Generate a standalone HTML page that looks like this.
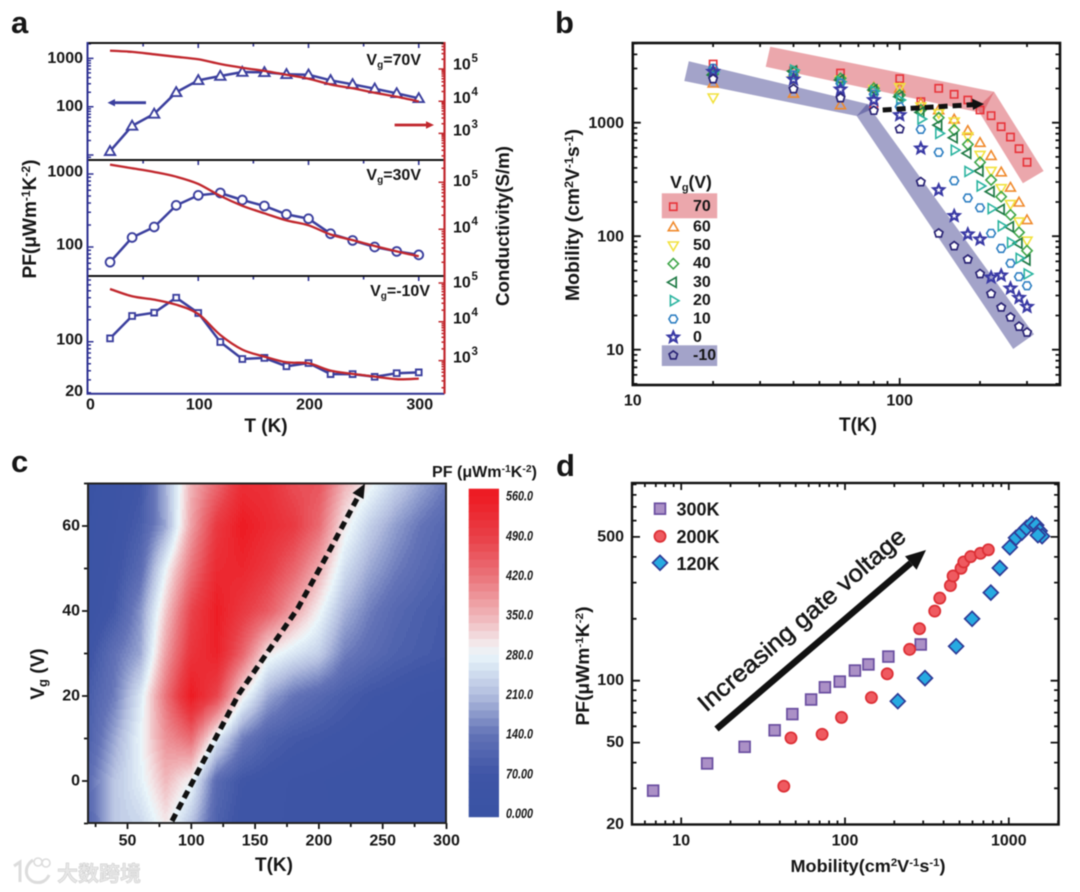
<!DOCTYPE html>
<html>
<head>
<meta charset="utf-8">
<title>Thermoelectric power factor and mobility figure</title>
<style>
html,body{margin:0;padding:0;background:#fff}
svg{display:block;filter:blur(0.6px)}
text{font-family:"Liberation Sans","Noto Sans CJK SC",sans-serif;font-weight:bold;fill:#161616}
.tick{font-size:16px}
.let{font-size:31px}
</style>
</head>
<body>
<svg id="fig" width="1080" height="892" viewBox="0 0 1080 892" xmlns="http://www.w3.org/2000/svg">
<rect x="0" y="0" width="1080" height="892" fill="#fff"/>

<text class="let" x="11" y="33">a</text>
<text class="let" x="555" y="33">b</text>
<text class="let" x="11" y="472">c</text>
<text class="let" x="556" y="476">d</text>

<g id="panelA">
  <text transform="translate(36,219) rotate(-90)" text-anchor="middle" font-size="19" textLength="119" lengthAdjust="spacingAndGlyphs">PF(μWm<tspan dy="-6" font-size="12">-1</tspan><tspan dy="6">K</tspan><tspan dy="-6" font-size="12">-2</tspan><tspan dy="6">)</tspan></text>
  <text transform="translate(509,226) rotate(-90)" text-anchor="middle" font-size="18.7" textLength="160" lengthAdjust="spacingAndGlyphs">Conductivity(S/m)</text>
  <text x="266" y="432" text-anchor="middle" font-size="19">T (K)</text>
  <text x="421" y="65" text-anchor="end" font-size="16">V<tspan dy="3" font-size="10">g</tspan><tspan dy="-3">=70V</tspan></text>
  <text x="421" y="180" text-anchor="end" font-size="16">V<tspan dy="3" font-size="10">g</tspan><tspan dy="-3">=30V</tspan></text>
  <text x="430" y="296" text-anchor="end" font-size="16">V<tspan dy="3" font-size="10">g</tspan><tspan dy="-3">=-10V</tspan></text>
  <path d="M146 102.7H113" stroke="#3b3f9e" stroke-width="2.8" fill="none"/>
  <path d="M107.5 102.7L115 99V106.4Z" fill="#3b3f9e"/>
  <path d="M394.6 125H428" stroke="#c1272d" stroke-width="2.8" fill="none"/>
  <path d="M434 125L426 121.3V128.7Z" fill="#c1272d"/>
</g>

<g id="panelB">
  <polygon points="770.2,46.7 994.1,91.7 983,113.3 765.7,66.7" fill="#d23c46" fill-opacity="0.45"/>
  <polygon points="994.1,91.7 1043.6,171 1022.9,183.3 976.8,108.3" fill="#d23c46" fill-opacity="0.45"/>
  <polygon points="688.8,61.3 878,106.5 856.7,116 684.3,81" fill="#3c3c8c" fill-opacity="0.47"/>
  <polygon points="867,104 1034,334.3 1013.2,349 856.7,116" fill="#3c3c8c" fill-opacity="0.47"/>
  <rect x="661.8" y="193.3" width="55.4" height="25" fill="#d23c46" fill-opacity="0.45"/>
  <rect x="661.8" y="345.3" width="55.4" height="20.7" fill="#3c3c8c" fill-opacity="0.47"/>
  <text transform="translate(579,215) rotate(-90)" text-anchor="middle" font-size="19" textLength="172" lengthAdjust="spacingAndGlyphs">Mobility (cm<tspan dy="-6" font-size="12">2</tspan><tspan dy="6">V</tspan><tspan dy="-6" font-size="12">-1</tspan><tspan dy="6">s</tspan><tspan dy="-6" font-size="12">-1</tspan><tspan dy="6">)</tspan></text>
  <text x="858" y="431" text-anchor="middle" font-size="19">T(K)</text>
  <text x="691" y="188" text-anchor="middle" font-size="17.5">V<tspan dy="3" font-size="11">g</tspan><tspan dy="-3">(V)</tspan></text>
  <g id="bMarks"></g>
  <path d="M882.7 110L974 104.6" stroke="#111" stroke-width="5" stroke-dasharray="9 5" fill="none"/>
  <path d="M984 104L972 98.6L973 110Z" fill="#111"/>
</g>

<g id="panelC">
  <g id="heat"></g>
  <g id="bar"></g>
  <polyline points="172,821 238.8,694 297.7,608.5 328.8,552 359,495" fill="none" stroke="#111" stroke-width="5.2" stroke-dasharray="8 5"/>
  <path d="M365 483.5L352.5 493L363.5 499Z" fill="#111"/>
  <text transform="translate(44,674) rotate(-90)" text-anchor="middle" font-size="19">V<tspan dy="3" font-size="13">g</tspan><tspan dy="-3"> (V)</tspan></text>
  <text x="274" y="871" text-anchor="middle" font-size="19">T(K)</text>
  <text x="432" y="477" font-size="15.5" textLength="105" lengthAdjust="spacingAndGlyphs">PF (μWm<tspan dy="-5" font-size="10">-1</tspan><tspan dy="5">K</tspan><tspan dy="-5" font-size="10">-2</tspan><tspan dy="5">)</tspan></text>
</g>

<g id="panelD">
  <text transform="translate(589,666) rotate(-90)" text-anchor="middle" font-size="18" textLength="119" lengthAdjust="spacingAndGlyphs">PF(μWm<tspan dy="-6" font-size="11">-1</tspan><tspan dy="6">K</tspan><tspan dy="-6" font-size="11">-2</tspan><tspan dy="6">)</tspan></text>
  <text x="868" y="872" text-anchor="middle" font-size="17.5" textLength="155" lengthAdjust="spacingAndGlyphs">Mobility(cm<tspan dy="-6" font-size="11">2</tspan><tspan dy="6">V</tspan><tspan dy="-6" font-size="11">-1</tspan><tspan dy="6">s</tspan><tspan dy="-6" font-size="11">-1</tspan><tspan dy="6">)</tspan></text>
  <path d="M716.5 729L910.8 563" stroke="#111" stroke-width="6.5" fill="none"/>
  <path d="M926 550L905 556.2L916.6 569.8Z" fill="#111"/>
  <text transform="translate(802,620) rotate(-40.8)" text-anchor="middle" dominant-baseline="central" font-size="24" style="font-weight:normal;stroke:#161616;stroke-width:.5px" textLength="266" lengthAdjust="spacingAndGlyphs">Increasing gate voltage</text>
  <g id="dMarks"></g>
</g>

<g>
  <path d="M14 866L20 862V882M33 860C24 866 24 878 34 882C42 884 47 880 49 875" fill="none" stroke="#dcdcdc" stroke-width="3"/>
  <circle cx="38" cy="862" r="4" fill="none" stroke="#dcdcdc" stroke-width="1.6"/>
  <circle cx="46" cy="863" r="4" fill="none" stroke="#dcdcdc" stroke-width="1.6"/>
  <text x="57" y="881" font-size="21" style="fill:#e8e8e8;stroke:#cfcfcf;stroke-width:.6px;font-family:'Noto Sans CJK SC',sans-serif">大数跨境</text>
</g>
</svg>

<script>
// ---------- Panel a data ----------
const tempsA = [20,40,60,80,100,120,140,160,180,200,220,240,260,280,300];
const pfVg70  = [12,40,71,199,352,432,523,515,468,460,352,291,236,189,149];
const pfVg30  = [62,135,188,372,510,550,440,365,280,244,152,123,100,87,78];
const pfVgM10 = [111,225,250,401,247,99,58,60,46,51,36,36,33,37,38];
const logSigma70  = [5.57,5.53,5.456,5.38,5.30,5.155,5.04,4.94,4.82,4.70,4.52,4.40,4.26,4.14,3.995];
const logSigma30  = [5.376,5.298,5.22,5.12,4.965,4.71,4.50,4.34,4.19,4.085,3.89,3.77,3.645,3.53,3.425];
const logSigmaM10 = [4.845,4.657,4.571,4.442,4.2,3.66,3.283,3.103,2.957,2.93,2.742,2.657,2.588,2.52,2.536];

// ---------- Panel b data ----------
const tempsB = [20,40,60,80,100,120,140,160,180,200,220,240,260,280,300];
const mu70 = [3288,2871,2740,1365,2441,1531,2007,1778,1585,1294,1153,922,748,590,448];
const mu60 = [2221,1811,1432,2046,2007,1480,1294,1070,851,667,512,367,269,199,139];
const mu50 = [1660,2377,2377,1967,2046,1384,1208,1020,753,519,375,264,191,134,91];
const mu40 = [2685,2813,2460,2007,1754,1294,1107,862,644,448,313,223,154,108,74.5];
const mu30 = [2630,2851,2377,1941,1694,1233,953,738,537,375,247,172,121,86.5,61.7];
const mu20 = [2813,2911,2296,1901,1585,1077,805,574,372,277,175,123,87.7,63.8,46.5];
const mu10 = [3010,2630,2221,1778,1384,873,548,308,217,178,106,78,57.7,44,36.6];
const mu0  = [2813,2410,1967,1585,1169,594,255,151,104,93.8,43.4,45.2,34.7,28.7,23.9];
const muM10 = [2425,1980,1650,1276,879,300,106,81.9,62.5,46.5,31.1,23.6,19.3,16,14.2];
const legendVg = ["70","60","50","40","30","20","10","0","-10"];

// ---------- Panel c data (PF by T and Vg) ----------
const heatT = [20,40,60,80,100,120,140,160,180,200,220,240,260,280,300];
const heatVg = [70,60,50,40,30,20,10,0,-10];
const heat70 = [12,40,71,199,352,432,523,515,468,460,352,291,236,189,149];
const heat60 = [20,50,90,190,370,500,565,530,500,430,300,230,180,140,110];
const heat50 = [25,60,120,280,420,530,540,500,440,360,250,190,150,120,95];
const heat40 = [30,80,170,330,480,560,500,450,370,290,200,150,115,95,80];
const heat30 = [62,135,188,372,510,550,440,300,260,230,152,123,100,87,78];
const heat20 = [90,150,260,420,565,480,300,190,140,115,90,70,60,50,45];
const heat10 = [100,190,280,385,430,270,150,100,80,70,60,50,45,40,35];
const heat0  = [130,220,270,345,285,120,70,60,50,45,40,38,35,33,30];
const heatM10 = [111,225,240,300,215,99,58,60,46,51,36,36,33,37,38];
const barTicks = ["560.0","490.0","420.0","350.0","280.0","210.0","140.0","70.00","0.000"];
const barTickValues = [560,490,420,350,280,210,140,70,0];

// ---------- Panel d data ----------
const mob300 = [6.74,14.4,24.4,37.2,47.7,62.1,75.4,92.9,115,139,184,290];
const pf300  = [29.2,39.6,47.7,57.4,68.8,81,92.9,99,112,120,131,150];
const mob200 = [42.3,46.8,72.5,95.2,145,181,248,285,353,379,440,457,511,531,585,671,750];
const pf200  = [30.7,52.7,54.9,66.3,82.8,108,142,179,218,252,290,323,352,378,401,416,433];
const mob120 = [210,308,477,597,776,881,1014,1107,1203,1282,1380,1469,1542,1596,1506];
const pf120  = [79.5,103,147,200,268,353,445,495,525,553,580,570,535,504,510];

// ---------- helpers ----------
const NS = "http://www.w3.org/2000/svg";
function mk(tag, attrs, parent, txt){
  const el = document.createElementNS(NS, tag);
  for (const k in attrs) el.setAttribute(k, attrs[k]);
  if (txt !== undefined) el.textContent = txt;
  parent.appendChild(el);
  return el;
}
function smooth(p){
  let d = "M" + p[0][0].toFixed(1) + " " + p[0][1].toFixed(1);
  for (let i = 0; i < p.length - 1; i++){
    const a = p[Math.max(i-1,0)], b = p[i], c = p[i+1], e = p[Math.min(i+2,p.length-1)];
    d += "C" + (b[0]+(c[0]-a[0])/6).toFixed(1) + " " + (b[1]+(c[1]-a[1])/6).toFixed(1) + " " +
         (c[0]-(e[0]-b[0])/6).toFixed(1) + " " + (c[1]-(e[1]-b[1])/6).toFixed(1) + " " +
         c[0].toFixed(1) + " " + c[1].toFixed(1);
  }
  return d;
}
function poly(cx, cy, r, n, rot){
  const pts = [];
  for (let i = 0; i < n; i++){
    const t = rot + i * 2 * Math.PI / n;
    pts.push((cx + r*Math.cos(t)).toFixed(1) + "," + (cy + r*Math.sin(t)).toFixed(1));
  }
  return pts.join(" ");
}
function star(cx, cy, r){
  const pts = [];
  for (let i = 0; i < 10; i++){
    const t = -Math.PI/2 + i*Math.PI/5, q = i%2 ? r*0.45 : r;
    pts.push((cx + q*Math.cos(t)).toFixed(1) + "," + (cy + q*Math.sin(t)).toFixed(1));
  }
  return pts.join(" ");
}
function shapePts(kind, x, y, r){
  if (kind === "square") return poly(x, y, r*1.05, 4, Math.PI/4);
  if (kind === "tri-up") return poly(x, y+0.8, r*1.15, 3, -Math.PI/2);
  if (kind === "tri-down") return poly(x, y-0.8, r*1.15, 3, Math.PI/2);
  if (kind === "tri-left") return poly(x, y, r*1.15, 3, Math.PI);
  if (kind === "tri-right") return poly(x, y, r*1.15, 3, 0);
  if (kind === "diamond") return poly(x, y, r*1.1, 4, 0);
  if (kind === "hexagon") return poly(x, y, r, 6, 0);
  if (kind === "pentagon") return poly(x, y, r, 5, -Math.PI/2);
  return star(x, y, r*1.3);
}
function logTicks(scale, top, bot){
  const out = [];
  for (let n = -1; n < 7; n++) for (let k = 1; k < 10; k++){
    const v = k*Math.pow(10,n), y = scale(v);
    if (y >= Math.min(top,bot)-0.1 && y <= Math.max(top,bot)+0.1) out.push([v, k === 1]);
  }
  return out;
}

// ---------- Panel a ----------
const xA = t => 88 + 1.1025*t;
(function(){
  const g = document.getElementById("panelA");
  const subs = [
    {pf:pfVg70, sig:logSigma70, kind:"tri-up", y100:106.7, dec:48.3, y5:69, sd:32.2, top:43, bot:160},
    {pf:pfVg30, sig:logSigma30, kind:"circle", y100:247, dec:73, y5:182.3, sd:47, top:160, bot:276},
    {pf:pfVgM10, sig:logSigmaM10, kind:"square", y100:341.7, dec:73, y5:283, sd:38.8, top:276, bot:392.7}
  ];
  const xT = [50,100,150,200,250,300];
  subs.forEach(s => {
    const yPF = v => s.y100 - s.dec*(Math.log10(v)-2);
    const ySig = l => s.y5 - s.sd*(l-5);
    let d = "";
    xT.forEach(t => { d += "M" + xA(t) + " " + s.top + "v" + (t%100===0?5:3.5); });
    const xt = mk("path",{d:d,stroke:"#2e3192","stroke-width":1.6,fill:"none"},g);
    
    
    d = "";
    logTicks(yPF, s.top, s.bot).forEach(tk => { d += "M87.5 " + yPF(tk[0]).toFixed(1) + "h" + (tk[1]?6:3.5); });
    const lt = mk("path",{d:d,stroke:"#2e3192","stroke-width":1.5,fill:"none"},g);
    
    
    d = "";
    for (let n = 1; n < 7; n++) for (let k = 1; k < 10; k++){
      const y = ySig(n + Math.log10(k));
      if (y >= s.top && y <= s.bot) d += "M444.5 " + y.toFixed(1) + "h" + (k===1?-6:-3);
    }
    const rt = mk("path",{d:d,stroke:"#c1272d","stroke-width":1.5,fill:"none"},g);
    
    
    const line = mk("polyline",{points:tempsA.map((t,i)=>xA(t).toFixed(1)+","+yPF(s.pf[i]).toFixed(1)).join(" "),fill:"none",stroke:"#3b3f9e","stroke-width":2.5},g);
    
    
    tempsA.forEach((t,i) => {
      const x = xA(t), y = yPF(s.pf[i]);
      let m;
      if (s.kind === "circle") m = mk("circle",{cx:x,cy:y,r:4.4,fill:"#fff",stroke:"#3b3f9e","stroke-width":1.9},g);
      else m = mk("polygon",{points:shapePts(s.kind,x,y,s.kind==="square"?3.9:5.2),fill:"#fff",stroke:"#3b3f9e","stroke-width":1.9},g);
      
      
    });
    const red = mk("path",{d:smooth(tempsA.map((t,i)=>[xA(t),ySig(s.sig[i])])),fill:"none",stroke:"#c1272d","stroke-width":2.3},g);
    
    
  });
  const sp1 = mk("path",{d:"M87.5 43H444.5M87.5 160H444.5M87.5 276H444.5",stroke:"#111","stroke-width":2,fill:"none"},g);
  
  
  const sp2 = mk("path",{d:"M87.5 42V393.7H444.5",stroke:"#2e3192","stroke-width":2,fill:"none"},g);
  
  
  const sp3 = mk("path",{d:"M444.5 42V393.7",stroke:"#c1272d","stroke-width":2.2,fill:"none"},g);
  
  
  [["1000",58.3],["100",106.7],["1000",172],["100",245],["100",340],["20",391.7]].forEach(a => {
    const t = mk("text",{class:"tick",x:83,y:a[1],"text-anchor":"end","dominant-baseline":"central"},g,a[0]);
    
    
  });
  [0,100,200,300].forEach(v => {
    const t = mk("text",{class:"tick",x:v===0?90.5:xA(v)+1,y:405,"text-anchor":"middle","dominant-baseline":"central"},g,String(v));
    
    
  });
  [[5,65],[4,98.3],[3,131],[5,181.7],[4,228],[5,283],[4,319],[3,358]].forEach(a => {
    const t = mk("text",{class:"tick",x:453,y:a[1],"dominant-baseline":"central"},g,"10");
    
    
    const e = mk("text",{x:471.5,y:a[1]-6,"font-size":11.5,"dominant-baseline":"central"},g,String(a[0]));
    
    
  });
})();

// ---------- Panel b ----------
const xB = t => 632.8 + 266.9*(Math.log10(t)-1);
const yB = m => 122.7 - 113.5*(Math.log10(m)-3);
(function(){
  const g = document.getElementById("bMarks");
  const series = [
    {v:mu70,k:"square",c:"#e8343a",f:"none",r:4.9,w:1.6},
    {v:mu60,k:"tri-up",c:"#f08a2c",f:"none",r:5,w:1.6},
    {v:mu50,k:"tri-down",c:"#f2e23e",f:"none",r:5,w:1.6},
    {v:mu40,k:"diamond",c:"#3fa649",f:"none",r:4.7,w:1.6},
    {v:mu30,k:"tri-left",c:"#1f7a45",f:"none",r:5,w:1.7},
    {v:mu20,k:"tri-right",c:"#2bb4a0",f:"none",r:5,w:1.6},
    {v:mu10,k:"hexagon",c:"#2e7fc2",f:"none",r:4.4,w:1.6},
    {v:mu0,k:"star",c:"#3a3aa5",f:"none",r:4.3,w:2.2},
    {v:muM10,k:"pentagon",c:"#2a2475",f:"#fff",r:4.4,w:1.7}
  ];
  const rows = [206.7,227,245.7,263.7,282.3,300.7,319,337.3,355.3];
  series.forEach((s,si) => {
    tempsB.forEach((t,i) => {
      const m = mk("polygon",{points:shapePts(s.k,xB(t),yB(s.v[i]),s.r),fill:s.f,stroke:s.c,"stroke-width":s.w},g);
      
      
    });
    const lm = mk("polygon",{points:shapePts(s.k,673.3,rows[si],s.r),fill:"none",stroke:s.c,"stroke-width":s.w},g);
    
    
    const lt = mk("text",{x:693,y:rows[si],"font-size":16,"dominant-baseline":"central"},g,legendVg[si]);
    
    
  });
  const L=632.8,R=1060,T=43,B=385;
  let d = "";
  logTicks(v=>xB(v)>=L&&xB(v)<=R?1:-1,0,2).forEach(tk => {
    const x = xB(tk[0]).toFixed(1), h = tk[1]?7:4;
    d += "M"+x+" "+B+"v-"+h+"M"+x+" "+T+"v"+h;
  });
  logTicks(yB,T,B).forEach(tk => {
    const y = yB(tk[0]).toFixed(1), h = tk[1]?8:4.5;
    d += "M"+L+" "+y+"h"+h+"M"+R+" "+y+"h-"+h;
  });
  const tk = mk("path",{d:d,stroke:"#111","stroke-width":1.8,fill:"none"},g);
  
  
  const fr = mk("rect",{x:L,y:T,width:R-L,height:B-T,fill:"none",stroke:"#111","stroke-width":2.6},g);
  
  
  [10,100,1000].forEach(v => {
    const t = mk("text",{class:"tick",x:624,y:yB(v)+1,"text-anchor":"end","dominant-baseline":"central"},g,String(v));
    
    
  });
  [10,100].forEach(v => {
    const t = mk("text",{class:"tick",x:xB(v),y:401,"text-anchor":"middle","dominant-baseline":"central"},g,String(v));
    
    
  });
})();

// ---------- Panel c ----------
const xC = t => 127.5 + 1.276*(t-50);
const yC = v => 781 - 4.25*v;
function heatColor(v){
  const st = [[0,[57,83,164]],[70,[63,85,166]],[140,[99,115,183]],[210,[179,190,223]],[255,[214,227,242]],[280,[233,245,250]],[300,[243,232,234]],[350,[240,179,183]],[420,[234,114,121]],[490,[233,62,70]],[560,[237,28,36]],[600,[237,28,36]]];
  for (let i = 0; i < st.length-1; i++){
    if (v <= st[i+1][0]){
      const f = (v-st[i][0])/(st[i+1][0]-st[i][0]);
      return "rgb(" + st[i][1].map((c,j)=>Math.round(c+(st[i+1][1][j]-c)*f)).join(",") + ")";
    }
  }
  return "rgb(237,28,36)";
}
(function(){
  const g = document.getElementById("heat");
  const rowsData = [heat70,heat60,heat50,heat40,heat30,heat20,heat10,heat0,heatM10];
  const L=88, R=446, T=483.5, B=823, step=2, q=8;
  const val = (t,v) => {
    const ti = Math.max(0,Math.min(heatT.length-1.001,(t-heatT[0])/20));
    const vi = Math.max(0,Math.min(heatVg.length-1.001,(heatVg[0]-v)/10));
    const a = Math.floor(ti), b = Math.floor(vi), f = ti-a, h = vi-b;
    return rowsData[b][a]*(1-f)*(1-h)+rowsData[b][a+1]*f*(1-h)+rowsData[b+1][a]*(1-f)*h+rowsData[b+1][a+1]*f*h;
  };
  for (let y = T; y < B; y += step){
    let runX = L, runLvl = null;
    for (let x = L; x <= R; x += step){
      const t = 50+(x+step/2-127.5)/1.276, v = (781-(y+step/2))/4.25;
      const lvl = x >= R ? -1 : Math.round(val(t,v)/q);
      if (lvl !== runLvl){
        if (runLvl !== null){
          const c = mk("rect",{x:runX,y:y,width:x-runX+0.6,height:step+0.6,fill:heatColor(runLvl*q),"shape-rendering":"crispEdges"},g);
          
          
        }
        runX = x; runLvl = lvl;
      }
    }
  }
  let d = "";
  [25,50,75,100,125,150,175,200,225,250,275,300].forEach(t => { d += "M"+xC(t).toFixed(1)+" "+B+"v"+(t%50===0?6:4); });
  [-10,0,10,20,30,40,50,60,70].forEach(v => { d += "M"+L+" "+yC(v).toFixed(1)+"h"+(v%20===0?-6:-4); });
  const tk = mk("path",{d:d,stroke:"#111","stroke-width":1.8,fill:"none"},g);
  
  
  const fr = mk("rect",{x:L,y:T,width:R-L,height:B-T,fill:"none",stroke:"#222","stroke-width":2},g);
  
  
  [0,20,40,60].forEach(v => {
    const t = mk("text",{class:"tick",x:80,y:yC(v),"text-anchor":"end","dominant-baseline":"central"},g,String(v));
    
    
  });
  [50,100,150,200,250,300].forEach(v => {
    const t = mk("text",{class:"tick",x:xC(v),y:841,"text-anchor":"middle","dominant-baseline":"central"},g,String(v));
    
    
  });
  const b = document.getElementById("bar");
  const yBar = v => 813 - v*0.5666;
  for (let v = 0; v < 574; v += 14){
    const top = Math.max(488.7, yBar(v+14));
    const bot = v === 0 ? 816.7 : yBar(v);
    const s = mk("rect",{x:468.7,y:top,width:30.3,height:bot-top+0.5,fill:heatColor(v+7)},b);
    
    
  }
  barTicks.forEach((lab,i) => {
    const t = mk("text",{x:506,y:yBar(barTickValues[i]),"font-size":14,"font-style":"italic","dominant-baseline":"central",textLength:27,lengthAdjust:"spacingAndGlyphs"},b,lab);
    
    
  });
})();

// ---------- Panel d ----------
const xD = m => 681.2 + 163.8*(Math.log10(m)-1);
const yD = p => 680.7 - 205.7*(Math.log10(p)-2);
(function(){
  const g = document.getElementById("dMarks");
  const L=632,R=1058.6,T=483,B=824.5;
  let d = "";
  logTicks(v=>xD(v)>=L&&xD(v)<=R?1:-1,0,2).forEach(tk => {
    const x = xD(tk[0]).toFixed(1), h = tk[1]?7:4;
    d += "M"+x+" "+B+"v-"+h+"M"+x+" "+T+"v"+h;
  });
  logTicks(yD,T,B).forEach(tk => {
    const y = yD(tk[0]).toFixed(1), maj = tk[1] || Math.abs(tk[0]-500)<1 || Math.abs(tk[0]-50)<0.1, h = maj?8:4.5;
    d += "M"+L+" "+y+"h"+h+"M"+R+" "+y+"h-"+h;
  });
  const tk = mk("path",{d:d,stroke:"#111","stroke-width":1.8,fill:"none"},g);
  
  
  const fr = mk("rect",{x:L,y:T,width:R-L,height:B-T,fill:"none",stroke:"#111","stroke-width":2.4},g);
  
  
  const sq = (x,y) => mk("rect",{x:x-5.4,y:y-5.4,width:10.8,height:10.8,fill:"#ab90c6",stroke:"#6a4ea0","stroke-width":1.7},g);
  const ci = (x,y) => mk("circle",{cx:x,cy:y,r:5.6,fill:"#ef5a60",stroke:"#dc2f35","stroke-width":1.7},g);
  const di = (x,y) => mk("polygon",{points:poly(x,y,7.4,4,0),fill:"#27aae1",stroke:"#2e3a96","stroke-width":1.7},g);
  mob300.forEach((m,i) => {
    const e = sq(xD(m),yD(pf300[i]));
    
    
  });
  mob200.forEach((m,i) => {
    const e = ci(xD(m),yD(pf200[i]));
    
    
  });
  mob120.forEach((m,i) => {
    const e = di(xD(m),yD(pf120[i]));
    
    
  });
  const l1 = sq(660,508.7);
  
  
  const l2 = ci(660,536.3);
  
  
  const l3 = di(660,562.8);
  
  
  [["300K",509.5],["200K",537],["120K",564]].forEach(a => {
    const t = mk("text",{x:676.5,y:a[1],"font-size":18,"dominant-baseline":"central"},g,a[0]);
    
    
  });
  [20,50,100,500].forEach(v => {
    const t = mk("text",{class:"tick",x:624,y:yD(v),"text-anchor":"end","dominant-baseline":"central"},g,String(v));
    
    
  });
  [10,100,1000].forEach(v => {
    const t = mk("text",{class:"tick",x:xD(v),y:841,"text-anchor":"middle","dominant-baseline":"central"},g,String(v));
    
    
  });
})();
</script>
</body>
</html>
